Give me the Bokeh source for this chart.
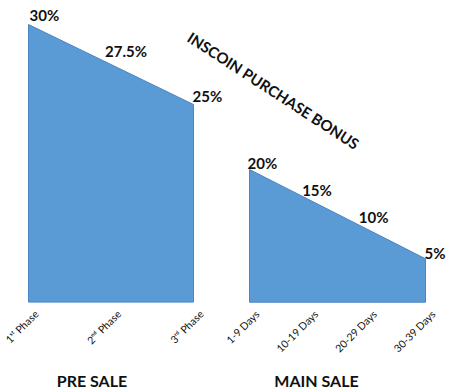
import numpy as np
from bokeh.plotting import figure
from bokeh.models import Range1d, Label, ColumnDataSource
from bokeh.core.properties import value
from bokeh.embed import file_html
from bokeh.resources import INLINE

# ---- data ----
pre_phases = ["1\u02e2\u1d57 Phase", "2\u207f\u1d48 Phase", "3\u02b3\u1d48 Phase"]
pre_bonus = [30, 27.5, 25]
main_days = ["1-9 Days", "10-19 Days", "20-29 Days", "30-39 Days"]
main_bonus = [20, 15, 10, 5]
section_names = ["PRE SALE", "MAIN SALE"]
title_text = "INSCOIN PURCHASE BONUS"

# ---- styling (label nudges in screen pixels) ----
FILL = "#5b9bd5"
EDGE = "#4a86c3"
PRE_BASE = 12.65
MAIN_BASE = -2.29
FONT = value("Lato")
pre_dx, pre_dy = [1, -6, -1], [-10, -14, -9]
main_dx, main_dy = [-2, -6, -8, -1], [-7, -9, -12, -6]

p = figure(width=452, height=392, output_backend="svg", toolbar_location=None,
           x_range=Range1d(-0.3394, 5.1394), y_range=Range1d(7.0, 31.5),
           min_border=0, outline_line_color=None)
p.axis.visible = False
p.grid.visible = False
p.background_fill_color = "white"
p.extra_x_ranges = {"main": Range1d(-4.2443, 3.4602)}
p.extra_y_ranges = {"main": Range1d(-17.46, 48.39)}

def draw(cats, vals, base, dx, dy, xr, yr):
    idx = list(range(len(vals)))
    xs = [idx[0]] + idx + [idx[-1]]
    ys = [base] + list(vals) + [base]
    kw = {}
    if xr:
        kw["x_range_name"] = xr
    if yr:
        kw["y_range_name"] = yr
    p.patch(xs, ys, fill_color=FILL, line_color=EDGE, line_width=1, **kw)
    src = ColumnDataSource(dict(x=idx, y=list(vals), lab=[f"{v:g}%" for v in vals],
                                b=[base] * len(vals), cat=cats, dx=dx, dy=dy))
    p.text(x="x", y="y", text="lab", source=src, text_font=FONT, text_font_style="bold",
           text_font_size="15px", text_color="#111111", text_align="left",
           text_baseline="middle", x_offset="dx", y_offset="dy", **kw)
    p.text(x="x", y="b", text="cat", source=src, text_font=FONT,
           text_font_size="10.5px", text_color="#111111", text_align="right",
           text_baseline="middle", angle=45, angle_units="deg",
           x_offset=8, y_offset=10, **kw)
    return idx

i1 = draw(pre_phases, pre_bonus, PRE_BASE, pre_dx, pre_dy, None, None)
i2 = draw(main_days, main_bonus, MAIN_BASE, main_dx, main_dy, "main", "main")

p.text(x=[np.mean(i1)], y=[PRE_BASE], text=[section_names[0]], text_font=FONT,
       text_font_style="bold", text_font_size="16px", text_color="#111111",
       text_align="center", text_baseline="middle", x_offset=-19, y_offset=78)
p.text(x=[np.mean(i2)], y=[MAIN_BASE], text=[section_names[1]], text_font=FONT,
       text_font_style="bold", text_font_size="16px", text_color="#111111",
       text_align="center", text_baseline="middle", x_offset=-21, y_offset=78,
       x_range_name="main", y_range_name="main")

p.add_layout(Label(x=273, y=302, x_units="screen", y_units="screen", text=title_text,
                   angle=-33, angle_units="deg", text_font="Lato", text_font_style="bold",
                   text_font_size="15px", text_color="#111111", text_align="center",
                   text_baseline="middle"))

open("out.html", "w").write(file_html(p, INLINE))
